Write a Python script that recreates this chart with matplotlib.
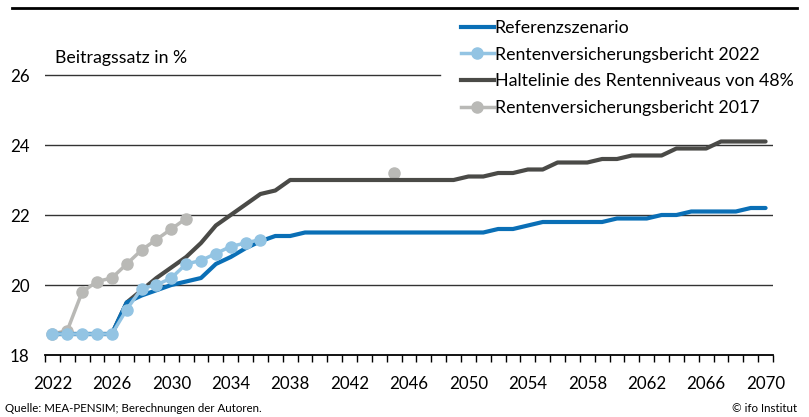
import matplotlib
matplotlib.use("Agg")
import matplotlib.pyplot as plt
from matplotlib.lines import Line2D

plt.rcParams['font.family'] = ['Lato', 'DejaVu Sans']

years_ref = list(range(2022, 2071))
referenz = [18.6, 18.6, 18.6, 18.6, 18.6, 19.5, 19.7, 19.85, 20.0, 20.1,
            20.2, 20.6, 20.8, 21.05, 21.25, 21.4, 21.4, 21.5, 21.5, 21.5,
            21.5, 21.5, 21.5, 21.5, 21.5, 21.5, 21.5, 21.5, 21.5, 21.5,
            21.6, 21.6, 21.7, 21.8, 21.8, 21.8, 21.8, 21.8, 21.9, 21.9,
            21.9, 22.0, 22.0, 22.1, 22.1, 22.1, 22.1, 22.2, 22.2]

halte = [18.6, 18.6, 18.6, 18.6, 18.6, 19.5, 19.85, 20.2, 20.5, 20.8,
         21.2, 21.7, 22.0, 22.3, 22.6, 22.7, 23.0, 23.0, 23.0, 23.0,
         23.0, 23.0, 23.0, 23.0, 23.0, 23.0, 23.0, 23.0, 23.1, 23.1,
         23.2, 23.2, 23.3, 23.3, 23.5, 23.5, 23.5, 23.6, 23.6, 23.7,
         23.7, 23.7, 23.9, 23.9, 23.9, 24.1, 24.1, 24.1, 24.1]

years_rv22 = list(range(2022, 2037))
rv2022 = [18.6, 18.6, 18.6, 18.6, 18.6, 19.3, 19.9, 20.0, 20.2, 20.6,
          20.7, 20.9, 21.1, 21.2, 21.3]

years_rv17 = list(range(2022, 2032))
rv2017 = [18.6, 18.7, 19.8, 20.1, 20.2, 20.6, 21.0, 21.3, 21.6, 21.9]
year_rv17_extra = [2045]
rv2017_extra = [23.2]

c_ref = '#0a6fb6'
c_rv22 = '#93c4e3'
c_halte = '#4a4a47'
c_rv17 = '#b9b9b6'

fig = plt.figure(figsize=(8.09, 4.17), dpi=100)
ax = fig.add_axes([45 / 809, 1 - 355 / 417, 728 / 809, 343 / 417])

ax.plot(years_rv17, rv2017, color=c_rv17, lw=2.5, marker='o', ms=8, zorder=3)
ax.plot(year_rv17_extra, rv2017_extra, color=c_rv17, lw=0, marker='o', ms=8, zorder=3)
ax.plot(years_ref, halte, color=c_halte, lw=3, zorder=4, solid_capstyle='round')
ax.plot(years_ref, referenz, color=c_ref, lw=3, zorder=5, solid_capstyle='round')
ax.plot(years_rv22, rv2022, color=c_rv22, lw=2.5, marker='o', ms=8, zorder=6)

for y in [20, 22, 24]:
    ax.axhline(y, color='#333333', lw=1, zorder=1)
ax.axhline(26, xmin=0, xmax=(440 - 45) / 728, color='#333333', lw=1, zorder=1)

ax.set_xlim(2021.5, 2070.5)
ax.set_ylim(18, 18 + 343 / 35)
ax.set_xticks(range(2022, 2071, 4))
ax.set_xticks([y + 0.5 for y in range(2021, 2071)], minor=True)
ax.tick_params(axis='x', which='major', length=0, pad=15, labelsize=12.2)
ax.tick_params(axis='x', which='minor', length=5, width=1, color='black')
ax.set_yticks([18, 20, 22, 24, 26])
ax.tick_params(axis='y', length=0, pad=11, labelsize=12.2)

for s in ['top', 'right', 'left']:
    ax.spines[s].set_visible(False)
ax.spines['bottom'].set_linewidth(1.3)
ax.patch.set_alpha(0)

fig.text(55 / 809, 1 - 58 / 417, 'Beitragssatz in %', fontsize=12.8, va='center', ha='left')

handles = [
    Line2D([], [], color=c_ref, lw=3),
    Line2D([], [], color=c_rv22, lw=2.5, marker='o', ms=8),
    Line2D([], [], color=c_halte, lw=3),
    Line2D([], [], color=c_rv17, lw=2.5, marker='o', ms=8),
]
labels = ['Referenzszenario', 'Rentenversicherungsbericht 2022',
          'Haltelinie des Rentenniveaus von 48%', 'Rentenversicherungsbericht 2017']
fig.legend(handles, labels, loc='upper left', bbox_to_anchor=(461 / 809, 1 - 20 / 417),
           frameon=False, fontsize=12.8, handlelength=1.85, handletextpad=0.05,
           labelspacing=0.6, borderpad=0, borderaxespad=0)

fig.add_artist(Line2D([12 / 809, 797 / 809], [1 - 8 / 417, 1 - 8 / 417],
                      color='black', lw=2, transform=fig.transFigure))

fig.text(5 / 809, 1 - 408 / 417, 'Quelle: MEA-PENSIM; Berechnungen der Autoren.',
         fontsize=8.3, va='center', ha='left')
fig.text(797 / 809, 1 - 408 / 417, '© ifo Institut', fontsize=8.3, va='center', ha='right')

fig.savefig('out.png', dpi=100)
